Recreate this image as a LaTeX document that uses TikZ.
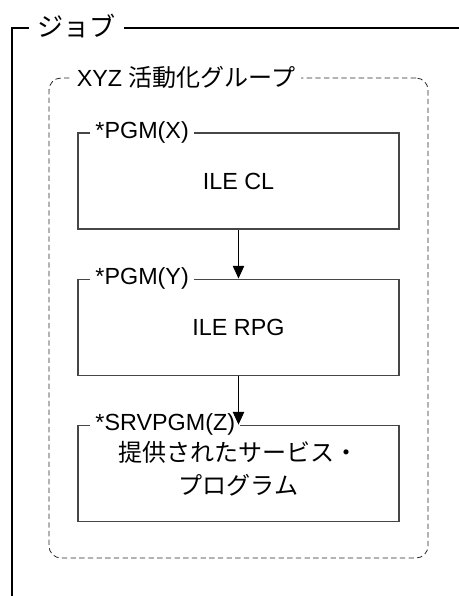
\documentclass[tikz,border=0pt]{standalone}
\usepackage{fontspec}
\setmainfont{Liberation Sans}
\newfontfamily\jpfont[Scale=1.03]{Noto Sans CJK JP}
\newfontfamily\jpbig[Scale=1.12]{Noto Sans CJK JP}
\usetikzlibrary{arrows.meta, positioning}
\definecolor{boxgray}{RGB}{70,70,70}
\definecolor{dashgray}{RGB}{40,40,40}

\begin{document}
\begin{tikzpicture}[
    x=0.75pt, y=-0.75pt,
    font=\fontsize{17.5}{25}\selectfont,
    pgmbox/.style={draw=boxgray,line width=0.8pt,minimum width=240.75pt,minimum height=72pt,inner sep=0pt,align=center},
    boxlabel/.style={fill=white,inner xsep=4pt,inner ysep=1pt,anchor=west},
    arrow/.style={-{Triangle[width=8.5pt,length=9.5pt]},line width=0.7pt}
]
    \useasboundingbox (0,0) rectangle (459,596);

    % Job frame (top and left side only)
    \coordinate (jobtop) at (459,28);
    \coordinate (jobcorner) at (12,28);
    \coordinate (jobbottom) at (12,596);
    \draw[line width=1.5pt] (jobtop) -- (jobcorner) -- (jobbottom);
    \node[boxlabel,inner xsep=6pt] (joblabel) at (29,26) {\jpbig ジョブ};

    % Activation group (dashed, rounded)
    \node[draw=dashgray,line width=0.6pt,dash pattern=on 4pt off 2.5pt,rounded corners=9pt,
          minimum width=284.25pt,minimum height=360pt] (group) at (238.5,318) {};
    \node[boxlabel] (grouplabel) at ([xshift=17pt]group.north west) {XYZ {\jpfont 活動化グループ}};

    % Programs
    \node[pgmbox] (pgmx) at (238.5,181) {ILE CL};
    \node[pgmbox,below=36.75pt of pgmx] (pgmy) {ILE RPG};
    \node[pgmbox,below=36.75pt of pgmy,font=\fontsize{17.5}{25}\selectfont\jpfont] (srvpgm) {提供されたサービス・\\プログラム\\[-17.5pt]};

    % Box labels
    \node[boxlabel] (pgmxlabel) at ([xshift=9.3pt]pgmx.north west) {*PGM(X)};
    \node[boxlabel] (pgmylabel) at ([xshift=9.3pt]pgmy.north west) {*PGM(Y)};
    \node[boxlabel] (srvlabel) at ([xshift=9.3pt]srvpgm.north west) {*SRVPGM(Z)};

    % Calls
    \draw[arrow] (pgmx.south) -- (pgmy.north);
    \draw[arrow] (pgmy.south) -- (srvpgm.north);
\end{tikzpicture}
\end{document}
